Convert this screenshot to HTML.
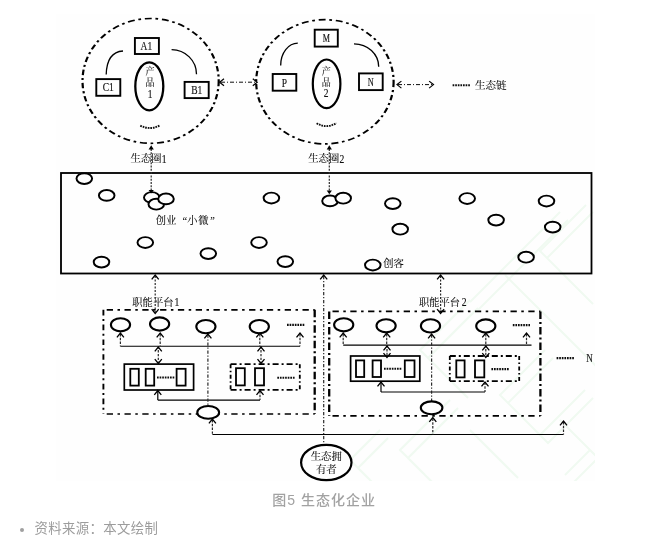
<!DOCTYPE html>
<html lang="zh-CN">
<head>
<meta charset="utf-8">
<title>图5 生态化企业</title>
<style>
html,body{margin:0;padding:0;background:#fff;}
body{width:650px;height:543px;position:relative;overflow:hidden;font-family:"Liberation Sans","Noto Sans CJK SC",sans-serif;}
figure{margin:0;position:absolute;left:0;top:0;width:650px;height:543px;}
svg{position:absolute;left:0;top:0;display:block;}
svg text{font-family:"Liberation Serif","Noto Serif CJK SC",serif;}
figcaption{position:absolute;left:0;width:650px;top:489.3px;line-height:22px;text-align:center;font-size:14px;font-weight:500;letter-spacing:1px;color:#a2a2a2;text-indent:-1.6px;filter:blur(0.3px);}
ul{position:absolute;left:0;top:518px;margin:0;padding:0;list-style:none;}
li{position:relative;padding-left:34.6px;font-size:13.4px;letter-spacing:0.35px;line-height:22px;color:#9c9c9c;white-space:nowrap;filter:blur(0.3px);}
li::before{content:"";position:absolute;left:19.8px;top:9.8px;width:4.4px;height:4.4px;border-radius:50%;background:#a0a0a0;}
</style>
</head>
<body>
<figure>
<svg width="650" height="543" viewBox="0 0 650 543">
<defs><clipPath id="imgclip"><rect x="56" y="14" width="539" height="467"/></clipPath><filter id="soft" x="-2%" y="-2%" width="104%" height="104%"><feGaussianBlur stdDeviation="0.45"/></filter></defs>
<g filter="url(#soft)">
<rect x="56" y="14" width="539" height="467" fill="#fefefe"/>
<g fill="none" stroke="#f0faf1" stroke-width="2" clip-path="url(#imgclip)"><path d="M586,205 L540,251 L586,297 M593,212 L547,258 L593,304"/><path d="M560,212 L500,272 L470,302 M568,220 L508,280 L478,310"/><path d="M505,275 L590,360 M513,283 L598,368"/><path d="M470,300 L420,350 L460,390 M478,308 L428,358 L468,398"/><path d="M545,350 L500,395 L540,435 L585,390 M553,358 L508,403 L548,443 L593,398"/><path d="M450,400 L400,450 L425,475 M458,408 L408,458 L433,483"/><path d="M380,430 L350,460 L370,480 M388,438 L358,468 L378,488"/><path d="M470,430 L510,470 M478,438 L518,478"/><path d="M560,420 L590,450 L565,475 M568,428 L598,458 L573,483"/></g>
<g transform="scale(1.3,1)"><ellipse cx="115.85" cy="80.9" rx="52.38" ry="62.4" fill="none" stroke="#000" stroke-width="1.7" stroke-dasharray="5.4 2.9 2.1 2.9" stroke-dashoffset="0"/></g>
<g transform="scale(1.3,1)"><ellipse cx="249.92" cy="81.8" rx="52.85" ry="62.1" fill="none" stroke="#000" stroke-width="1.7" stroke-dasharray="5.4 2.9 2.1 2.9" stroke-dashoffset="0"/></g>
<rect x="134.9" y="38" width="24.0" height="16" fill="none" stroke="#000" stroke-width="1.9"/>
<text transform="translate(146.4,50) scale(0.82,1)" font-size="11.6" text-anchor="middle" fill="#111" stroke="#111" stroke-width="0.15">A1</text>
<rect x="96.3" y="79.1" width="24.0" height="16.700000000000003" fill="none" stroke="#000" stroke-width="1.9"/>
<text transform="translate(108.3,91.2) scale(0.82,1)" font-size="11.6" text-anchor="middle" fill="#111" stroke="#111" stroke-width="0.15">C1</text>
<rect x="184.6" y="81.9" width="24.099999999999994" height="16.19999999999999" fill="none" stroke="#000" stroke-width="1.9"/>
<text transform="translate(196.8,94) scale(0.82,1)" font-size="11.6" text-anchor="middle" fill="#111" stroke="#111" stroke-width="0.15">B1</text>
<ellipse cx="149.3" cy="86.3" rx="14" ry="24" fill="#fefefe" stroke="#000" stroke-width="2.3" />
<text transform="translate(150,75.3) scale(0.9,1)" font-size="10" text-anchor="middle" fill="#0a0a0a" stroke="#0a0a0a" stroke-width="0.1">产</text>
<text transform="translate(150,86) scale(0.9,1)" font-size="10" text-anchor="middle" fill="#0a0a0a" stroke="#0a0a0a" stroke-width="0.1">品</text>
<text transform="translate(150,98) scale(0.82,1)" font-size="11.6" text-anchor="middle" fill="#111" stroke="#111" stroke-width="0.15">1</text>
<path d="M123,51 C113.5,51.6 106.6,58.5 106.2,74.6" fill="none" stroke="#000" stroke-width="1.3"/>
<path d="M171.6,49.6 A25,24.6 0 0 1 196.5,74.2" fill="none" stroke="#000" stroke-width="1.3"/>
<path d="M140.3,125.6 Q150,130.6 160,125.4" fill="none" stroke="#111" stroke-width="1.9" stroke-dasharray="1.7 0.9"/>
<rect x="314.7" y="29.7" width="23.100000000000023" height="16.900000000000002" fill="none" stroke="#000" stroke-width="1.9"/>
<text transform="translate(326.3,42.3) scale(0.7,1)" font-size="11.6" text-anchor="middle" fill="#111" stroke="#111" stroke-width="0.15">M</text>
<rect x="272.7" y="74" width="23.600000000000023" height="16.700000000000003" fill="none" stroke="#000" stroke-width="1.9"/>
<text transform="translate(284.5,87.0) scale(0.82,1)" font-size="11.6" text-anchor="middle" fill="#111" stroke="#111" stroke-width="0.15">P</text>
<rect x="359" y="73.4" width="23.69999999999999" height="16.69999999999999" fill="none" stroke="#000" stroke-width="1.9"/>
<text transform="translate(370.8,86.2) scale(0.72,1)" font-size="11.6" text-anchor="middle" fill="#111" stroke="#111" stroke-width="0.15">N</text>
<ellipse cx="326.6" cy="83.8" rx="13.8" ry="24.3" fill="#fefefe" stroke="#000" stroke-width="2.2" />
<text transform="translate(326.2,75) scale(0.9,1)" font-size="10" text-anchor="middle" fill="#0a0a0a" stroke="#0a0a0a" stroke-width="0.1">产</text>
<text transform="translate(326.2,85.6) scale(0.9,1)" font-size="10" text-anchor="middle" fill="#0a0a0a" stroke="#0a0a0a" stroke-width="0.1">品</text>
<text transform="translate(326.2,96.8) scale(0.82,1)" font-size="11.6" text-anchor="middle" fill="#111" stroke="#111" stroke-width="0.15">2</text>
<path d="M297.8,43.2 A17.1,22.2 0 0 0 280.7,65.4" fill="none" stroke="#000" stroke-width="1.3"/>
<path d="M354,43.8 A24.7,23 0 0 1 378.7,66.8" fill="none" stroke="#000" stroke-width="1.3"/>
<path d="M316.6,123.2 Q326.5,129.2 336.4,123" fill="none" stroke="#111" stroke-width="1.9" stroke-dasharray="1.7 0.9"/>
<path d="M221,82.2 L256.5,82.2" fill="none" stroke="#000" stroke-width="0.95" stroke-dasharray="4 2 1 2"/>
<path d="M224.0,78.7 L219.6,82.2 L224.0,85.7" fill="none" stroke="#000" stroke-width="1.2"/>
<path d="M252.79999999999998,78.7 L257.2,82.2 L252.79999999999998,85.7" fill="none" stroke="#000" stroke-width="1.2"/>
<path d="M398,84.6 L433,84.6" fill="none" stroke="#000" stroke-width="0.95" stroke-dasharray="4 2 1 2"/>
<path d="M401.4,81.1 L397,84.6 L401.4,88.1" fill="none" stroke="#000" stroke-width="1.2"/>
<path d="M429.1,81.1 L433.5,84.6 L429.1,88.1" fill="none" stroke="#000" stroke-width="1.2"/>
<path d="M452.6,85.2 L470,85.2" fill="none" stroke="#111" stroke-width="2.1" stroke-dasharray="1.7 0.9"/>
<text x="475" y="89.3" font-size="10.5" text-anchor="start" fill="#0a0a0a" stroke="#0a0a0a" stroke-width="0.1">生态链</text>
<text x="130.6" y="162.4" font-size="10.3" text-anchor="start" fill="#0a0a0a" stroke="#0a0a0a" stroke-width="0.1">生态圈</text>
<text transform="translate(161.8,162.8) scale(0.82,1)" font-size="11.8" text-anchor="start" fill="#111" stroke="#111" stroke-width="0.15">1</text>
<text x="308.3" y="162.4" font-size="10.3" text-anchor="start" fill="#0a0a0a" stroke="#0a0a0a" stroke-width="0.1">生态圈</text>
<text transform="translate(339.5,162.8) scale(0.82,1)" font-size="11.8" text-anchor="start" fill="#111" stroke="#111" stroke-width="0.15">2</text>
<ellipse cx="84.3" cy="178.6" rx="7.8" ry="5.4" fill="#fefefe" stroke="#000" stroke-width="1.95" />
<ellipse cx="106.7" cy="195.4" rx="7.8" ry="5.4" fill="#fefefe" stroke="#000" stroke-width="1.95" />
<ellipse cx="151.8" cy="197.5" rx="7.8" ry="5.4" fill="#fefefe" stroke="#000" stroke-width="1.95" />
<ellipse cx="156.3" cy="204.2" rx="7.8" ry="5.4" fill="#fefefe" stroke="#000" stroke-width="1.95" />
<ellipse cx="166" cy="198.9" rx="7.8" ry="5.4" fill="#fefefe" stroke="#000" stroke-width="1.95" />
<ellipse cx="145.3" cy="242.5" rx="7.8" ry="5.4" fill="#fefefe" stroke="#000" stroke-width="1.95" />
<ellipse cx="101.5" cy="262.1" rx="7.8" ry="5.4" fill="#fefefe" stroke="#000" stroke-width="1.95" />
<ellipse cx="208.3" cy="253.6" rx="7.8" ry="5.4" fill="#fefefe" stroke="#000" stroke-width="1.95" />
<ellipse cx="271.4" cy="198" rx="7.8" ry="5.4" fill="#fefefe" stroke="#000" stroke-width="1.95" />
<ellipse cx="330" cy="200.9" rx="7.8" ry="5.4" fill="#fefefe" stroke="#000" stroke-width="1.95" />
<ellipse cx="343.2" cy="198.2" rx="7.8" ry="5.4" fill="#fefefe" stroke="#000" stroke-width="1.95" />
<ellipse cx="259" cy="242.5" rx="7.8" ry="5.4" fill="#fefefe" stroke="#000" stroke-width="1.95" />
<ellipse cx="285.3" cy="261.6" rx="7.8" ry="5.4" fill="#fefefe" stroke="#000" stroke-width="1.95" />
<ellipse cx="392.8" cy="203.6" rx="7.8" ry="5.4" fill="#fefefe" stroke="#000" stroke-width="1.95" />
<ellipse cx="400.2" cy="229.2" rx="7.8" ry="5.4" fill="#fefefe" stroke="#000" stroke-width="1.95" />
<ellipse cx="467.2" cy="198.5" rx="7.8" ry="5.4" fill="#fefefe" stroke="#000" stroke-width="1.95" />
<ellipse cx="496.1" cy="220.1" rx="7.8" ry="5.4" fill="#fefefe" stroke="#000" stroke-width="1.95" />
<ellipse cx="372.8" cy="265" rx="7.8" ry="5.4" fill="#fefefe" stroke="#000" stroke-width="1.95" />
<ellipse cx="546.5" cy="201" rx="7.8" ry="5.4" fill="#fefefe" stroke="#000" stroke-width="1.95" />
<ellipse cx="552.7" cy="227.1" rx="7.8" ry="5.4" fill="#fefefe" stroke="#000" stroke-width="1.95" />
<ellipse cx="526.1" cy="257.2" rx="7.8" ry="5.4" fill="#fefefe" stroke="#000" stroke-width="1.95" />
<rect x="61" y="173" width="530.5" height="100.5" fill="none" stroke="#000" stroke-width="1.8"/>
<path d="M151.2,149 L151.2,190.5" fill="none" stroke="#2a2a2a" stroke-width="1.2" stroke-dasharray="2 1.3"/>
<path d="M151.2,145.3 L148.6,149.5 L153.79999999999998,149.5 Z" fill="#000" stroke="none"/>
<path d="M151.2,193.6 L148.6,190.0 L153.79999999999998,190.0 Z" fill="#000" stroke="none"/>
<path d="M329.3,149 L329.3,191" fill="none" stroke="#2a2a2a" stroke-width="1.2" stroke-dasharray="2 1.3"/>
<path d="M329.3,145.3 L326.7,149.5 L331.90000000000003,149.5 Z" fill="#000" stroke="none"/>
<path d="M329.3,194.2 L326.7,190.6 L331.90000000000003,190.6 Z" fill="#000" stroke="none"/>
<text y="224.2" font-size="10.3" fill="#0a0a0a" stroke="#0a0a0a" stroke-width="0.1"><tspan x="155.7">创业</tspan><tspan x="182.4">“</tspan><tspan x="187.2">小</tspan><tspan x="198.2">微</tspan><tspan x="210.2">”</tspan></text>
<text x="383.2" y="267.3" font-size="10.3" text-anchor="start" fill="#0a0a0a" stroke="#0a0a0a" stroke-width="0.1">创客</text>
<path d="M155.2,276 L155.2,312.5" fill="none" stroke="#2a2a2a" stroke-width="1.2" stroke-dasharray="2 1.5"/>
<path d="M151.7,279.4 L155.2,275 L158.7,279.4" fill="none" stroke="#000" stroke-width="1.3"/>
<path d="M151.7,309.1 L155.2,313.5 L158.7,309.1" fill="none" stroke="#000" stroke-width="1.3"/>
<path d="M440.6,276 L440.6,312.5" fill="none" stroke="#2a2a2a" stroke-width="1.2" stroke-dasharray="2 1.5"/>
<path d="M437.1,279.4 L440.6,275 L444.1,279.4" fill="none" stroke="#000" stroke-width="1.3"/>
<path d="M437.1,309.1 L440.6,313.5 L444.1,309.1" fill="none" stroke="#000" stroke-width="1.3"/>
<path d="M323.7,276 L323.7,444.5" fill="none" stroke="#2a2a2a" stroke-width="1.2" stroke-dasharray="3.2 1.8 1.2 1.8"/>
<path d="M320.2,279.4 L323.7,275 L327.2,279.4" fill="none" stroke="#000" stroke-width="1.3"/>
<text x="132.3" y="305.9" font-size="10.3" text-anchor="start" fill="#0a0a0a" stroke="#0a0a0a" stroke-width="0.1">职能平台</text>
<text transform="translate(174.6,306) scale(0.82,1)" font-size="11.8" text-anchor="start" fill="#111" stroke="#111" stroke-width="0.15">1</text>
<text x="418.9" y="305.9" font-size="10.3" text-anchor="start" fill="#0a0a0a" stroke="#0a0a0a" stroke-width="0.1">职能平台</text>
<text transform="translate(461.7,306) scale(0.82,1)" font-size="11.8" text-anchor="start" fill="#111" stroke="#111" stroke-width="0.15">2</text>
<path d="M103.4,309.8 L314.7,309.8" fill="none" stroke="#000" stroke-width="1.7" stroke-dasharray="6.3 4.5 2.5 4.5" stroke-dashoffset="14.5"/>
<path d="M103.4,414 L314.7,414" fill="none" stroke="#000" stroke-width="1.7" stroke-dasharray="6.3 4.5 2.5 4.5" stroke-dashoffset="14.5"/>
<path d="M103.4,309.8 L103.4,414" fill="none" stroke="#000" stroke-width="1.9" stroke-dasharray="5.6 3.6 2 3.6" stroke-dashoffset="0"/>
<path d="M314.7,309.8 L314.7,414" fill="none" stroke="#000" stroke-width="2.3" stroke-dasharray="7.5 3 2 3" stroke-dashoffset="0"/>
<ellipse cx="120.5" cy="324.8" rx="9.6" ry="6.6" fill="#fefefe" stroke="#000" stroke-width="2.1" />
<ellipse cx="159.6" cy="324.0" rx="9.6" ry="6.6" fill="#fefefe" stroke="#000" stroke-width="2.1" />
<ellipse cx="205.9" cy="326.6" rx="9.6" ry="6.6" fill="#fefefe" stroke="#000" stroke-width="2.1" />
<ellipse cx="259.3" cy="326.6" rx="9.6" ry="6.6" fill="#fefefe" stroke="#000" stroke-width="2.1" />
<path d="M287,324.9 L305,324.9" fill="none" stroke="#111" stroke-width="2.2" stroke-dasharray="1.7 0.9"/>
<path d="M120.4,346.3 L300,346.3" fill="none" stroke="#000" stroke-width="1.1"/>
<path d="M120.4,334 L120.4,346.3" fill="none" stroke="#2a2a2a" stroke-width="1.2" stroke-dasharray="2.4 1.4"/>
<path d="M116.9,337.4 L120.4,333 L123.9,337.4" fill="none" stroke="#000" stroke-width="1.3"/>
<path d="M160.2,334 L160.2,346.3" fill="none" stroke="#2a2a2a" stroke-width="1.2" stroke-dasharray="2.4 1.4"/>
<path d="M156.7,337.4 L160.2,333 L163.7,337.4" fill="none" stroke="#000" stroke-width="1.3"/>
<path d="M259.8,334 L259.8,346.3" fill="none" stroke="#2a2a2a" stroke-width="1.2" stroke-dasharray="2.4 1.4"/>
<path d="M256.3,337.4 L259.8,333 L263.3,337.4" fill="none" stroke="#000" stroke-width="1.3"/>
<path d="M300,334 L300,346.3" fill="none" stroke="#2a2a2a" stroke-width="1.2" stroke-dasharray="2.4 1.4"/>
<path d="M296.5,337.4 L300,333 L303.5,337.4" fill="none" stroke="#000" stroke-width="1.3"/>
<path d="M158.3,346.3 L158.3,363" fill="none" stroke="#2a2a2a" stroke-width="1.2" stroke-dasharray="2.4 1.4"/>
<path d="M154.8,351.4 L158.3,347 L161.8,351.4" fill="none" stroke="#000" stroke-width="1.3"/>
<path d="M154.8,359.1 L158.3,363.5 L161.8,359.1" fill="none" stroke="#000" stroke-width="1.3"/>
<path d="M261,346.3 L261,363" fill="none" stroke="#2a2a2a" stroke-width="1.2" stroke-dasharray="2.4 1.4"/>
<path d="M257.5,351.4 L261,347 L264.5,351.4" fill="none" stroke="#000" stroke-width="1.3"/>
<path d="M257.5,359.1 L261,363.5 L264.5,359.1" fill="none" stroke="#000" stroke-width="1.3"/>
<rect x="124.3" y="364.1" width="69.3" height="25.899999999999977" fill="none" stroke="#000" stroke-width="1.7"/>
<rect x="130.3" y="368.8" width="8.5" height="16.80000000000001" fill="none" stroke="#000" stroke-width="1.8"/>
<rect x="145.7" y="368.8" width="8.5" height="16.80000000000001" fill="none" stroke="#000" stroke-width="1.8"/>
<rect x="176.6" y="368.8" width="9.0" height="16.80000000000001" fill="none" stroke="#000" stroke-width="1.8"/>
<path d="M157,377.6 L175,377.6" fill="none" stroke="#111" stroke-width="2.0" stroke-dasharray="1.7 0.9"/>
<path d="M230.6,364.2 L299.8,364.2" fill="none" stroke="#000" stroke-width="1.8" stroke-dasharray="6 3 2 3" stroke-dashoffset="0"/>
<path d="M230.6,389.8 L299.8,389.8" fill="none" stroke="#000" stroke-width="1.8" stroke-dasharray="6 3 2 3" stroke-dashoffset="0"/>
<path d="M230.6,364.2 L230.6,389.8" fill="none" stroke="#000" stroke-width="1.8" stroke-dasharray="4 2.5 1.5 2.5" stroke-dashoffset="0"/>
<path d="M299.8,364.2 L299.8,389.8" fill="none" stroke="#000" stroke-width="1.8" stroke-dasharray="4 2.5 1.5 2.5" stroke-dashoffset="0"/>
<rect x="236" y="368.2" width="8.800000000000011" height="17.19999999999999" fill="none" stroke="#000" stroke-width="1.8"/>
<rect x="255" y="368.2" width="9" height="17.19999999999999" fill="none" stroke="#000" stroke-width="1.8"/>
<path d="M277.3,377.7 L294.8,377.7" fill="none" stroke="#111" stroke-width="2.0" stroke-dasharray="1.7 0.9"/>
<path d="M157.8,400.1 L260,400.1" fill="none" stroke="#000" stroke-width="1.1"/>
<path d="M157.8,391 L157.8,400.1" fill="none" stroke="#000" stroke-width="1.2"/>
<path d="M154.3,394.9 L157.8,390.5 L161.3,394.9" fill="none" stroke="#000" stroke-width="1.3"/>
<path d="M260,391 L260,400.1" fill="none" stroke="#2a2a2a" stroke-width="1.2" stroke-dasharray="2.4 1.4"/>
<path d="M256.5,394.9 L260,390.5 L263.5,394.9" fill="none" stroke="#000" stroke-width="1.3"/>
<path d="M207.9,334.5 L207.9,405" fill="none" stroke="#2a2a2a" stroke-width="1.2" stroke-dasharray="3.2 1.8 1.2 1.8"/>
<path d="M204.4,338.4 L207.9,334 L211.4,338.4" fill="none" stroke="#000" stroke-width="1.3"/>
<ellipse cx="208.2" cy="412.4" rx="10.9" ry="6.4" fill="#fefefe" stroke="#000" stroke-width="2.1" />
<path d="M212.4,420 L212.4,434.5" fill="none" stroke="#2a2a2a" stroke-width="1.2" stroke-dasharray="2.4 1.4"/>
<path d="M208.9,423.4 L212.4,419 L215.9,423.4" fill="none" stroke="#000" stroke-width="1.3"/>
<path d="M212.4,434.5 L563.5,434.5" fill="none" stroke="#000" stroke-width="1.1"/>
<path d="M563.5,422 L563.5,434.5" fill="none" stroke="#2a2a2a" stroke-width="1.2" stroke-dasharray="2.4 1.4"/>
<path d="M560.0,425.4 L563.5,421 L567.0,425.4" fill="none" stroke="#000" stroke-width="1.3"/>
<path d="M329.2,311.4 L540.4,311.4" fill="none" stroke="#000" stroke-width="1.7" stroke-dasharray="6.3 4.5 2.5 4.5" stroke-dashoffset="14.5"/>
<path d="M329.2,415.8 L540.4,415.8" fill="none" stroke="#000" stroke-width="1.7" stroke-dasharray="6.3 4.5 2.5 4.5" stroke-dashoffset="14.5"/>
<path d="M329.2,311.4 L329.2,415.8" fill="none" stroke="#000" stroke-width="2.3" stroke-dasharray="7.5 3 2 3" stroke-dashoffset="0"/>
<path d="M540.4,311.4 L540.4,415.8" fill="none" stroke="#000" stroke-width="2.3" stroke-dasharray="7.5 3 2 3" stroke-dashoffset="0"/>
<ellipse cx="343.7" cy="324.8" rx="9.6" ry="6.6" fill="#fefefe" stroke="#000" stroke-width="2.1" />
<ellipse cx="386.1" cy="325.8" rx="9.6" ry="6.6" fill="#fefefe" stroke="#000" stroke-width="2.1" />
<ellipse cx="430.5" cy="325.9" rx="9.6" ry="6.6" fill="#fefefe" stroke="#000" stroke-width="2.1" />
<ellipse cx="485.8" cy="326" rx="9.6" ry="6.6" fill="#fefefe" stroke="#000" stroke-width="2.1" />
<path d="M512.8,325.2 L530,325.2" fill="none" stroke="#111" stroke-width="2.2" stroke-dasharray="1.7 0.9"/>
<path d="M343.2,345.1 L531.5,345.1" fill="none" stroke="#000" stroke-width="1.1"/>
<path d="M343.2,334 L343.2,345.2" fill="none" stroke="#2a2a2a" stroke-width="1.2" stroke-dasharray="2.4 1.4"/>
<path d="M339.7,337.4 L343.2,333 L346.7,337.4" fill="none" stroke="#000" stroke-width="1.3"/>
<path d="M386.7,334 L386.7,345.2" fill="none" stroke="#2a2a2a" stroke-width="1.2" stroke-dasharray="2.4 1.4"/>
<path d="M383.2,337.4 L386.7,333 L390.2,337.4" fill="none" stroke="#000" stroke-width="1.3"/>
<path d="M485.8,334 L485.8,345.2" fill="none" stroke="#2a2a2a" stroke-width="1.2" stroke-dasharray="2.4 1.4"/>
<path d="M482.3,337.4 L485.8,333 L489.3,337.4" fill="none" stroke="#000" stroke-width="1.3"/>
<path d="M526.5,334 L526.5,345.2" fill="none" stroke="#2a2a2a" stroke-width="1.2" stroke-dasharray="2.4 1.4"/>
<path d="M523.0,337.4 L526.5,333 L530.0,337.4" fill="none" stroke="#000" stroke-width="1.3"/>
<path d="M387,345.2 L387,357" fill="none" stroke="#2a2a2a" stroke-width="1.2" stroke-dasharray="2.4 1.4"/>
<path d="M383.5,350.4 L387,346 L390.5,350.4" fill="none" stroke="#000" stroke-width="1.3"/>
<path d="M383.5,353.1 L387,357.5 L390.5,353.1" fill="none" stroke="#000" stroke-width="1.3"/>
<path d="M485.8,345.2 L485.8,357" fill="none" stroke="#2a2a2a" stroke-width="1.2" stroke-dasharray="2.4 1.4"/>
<path d="M482.3,350.4 L485.8,346 L489.3,350.4" fill="none" stroke="#000" stroke-width="1.3"/>
<path d="M482.3,353.1 L485.8,357.5 L489.3,353.1" fill="none" stroke="#000" stroke-width="1.3"/>
<rect x="350.6" y="356" width="69.19999999999999" height="25.19999999999999" fill="none" stroke="#000" stroke-width="1.7"/>
<rect x="356" y="360.4" width="8.199999999999989" height="16.600000000000023" fill="none" stroke="#000" stroke-width="1.8"/>
<rect x="372.6" y="360.4" width="8.399999999999977" height="16.600000000000023" fill="none" stroke="#000" stroke-width="1.8"/>
<rect x="404.8" y="360.4" width="9.699999999999989" height="16.600000000000023" fill="none" stroke="#000" stroke-width="1.8"/>
<path d="M384,368.8 L402,368.8" fill="none" stroke="#111" stroke-width="2.1" stroke-dasharray="1.7 0.9"/>
<path d="M449.8,356 L519.2,356" fill="none" stroke="#000" stroke-width="1.8" stroke-dasharray="6 3 2 3" stroke-dashoffset="0"/>
<path d="M449.8,381.2 L519.2,381.2" fill="none" stroke="#000" stroke-width="1.8" stroke-dasharray="6 3 2 3" stroke-dashoffset="0"/>
<path d="M449.8,356 L449.8,381.2" fill="none" stroke="#000" stroke-width="1.8" stroke-dasharray="4 2.5 1.5 2.5" stroke-dashoffset="0"/>
<path d="M519.2,356 L519.2,381.2" fill="none" stroke="#000" stroke-width="1.8" stroke-dasharray="4 2.5 1.5 2.5" stroke-dashoffset="0"/>
<rect x="456.3" y="360.4" width="8.300000000000011" height="17.0" fill="none" stroke="#000" stroke-width="1.8"/>
<rect x="475" y="360.4" width="9.300000000000011" height="17.0" fill="none" stroke="#000" stroke-width="1.8"/>
<path d="M491.4,369.1 L509,369.1" fill="none" stroke="#111" stroke-width="2.1" stroke-dasharray="1.7 0.9"/>
<path d="M381,392 L485,392" fill="none" stroke="#000" stroke-width="1.1"/>
<path d="M381,382.5 L381,392" fill="none" stroke="#000" stroke-width="1.2"/>
<path d="M377.5,386.4 L381,382 L384.5,386.4" fill="none" stroke="#000" stroke-width="1.3"/>
<path d="M485,382.5 L485,392" fill="none" stroke="#2a2a2a" stroke-width="1.2" stroke-dasharray="2.4 1.4"/>
<path d="M481.5,386.4 L485,382 L488.5,386.4" fill="none" stroke="#000" stroke-width="1.3"/>
<path d="M431.6,334.5 L431.6,401" fill="none" stroke="#2a2a2a" stroke-width="1.2" stroke-dasharray="3.2 1.8 1.2 1.8"/>
<path d="M428.1,338.4 L431.6,334 L435.1,338.4" fill="none" stroke="#000" stroke-width="1.3"/>
<ellipse cx="431.6" cy="407.8" rx="10.8" ry="6.4" fill="#fefefe" stroke="#000" stroke-width="2.1" />
<path d="M432.8,418.5 L432.8,434.5" fill="none" stroke="#2a2a2a" stroke-width="1.2" stroke-dasharray="2.4 1.4"/>
<path d="M429.3,421.9 L432.8,417.5 L436.3,421.9" fill="none" stroke="#000" stroke-width="1.3"/>
<path d="M556.6,358.2 L574.7,358.2" fill="none" stroke="#111" stroke-width="2.2" stroke-dasharray="1.7 0.9"/>
<text transform="translate(586.2,362) scale(0.78,1)" font-size="11.6" text-anchor="start" fill="#111" stroke="#111" stroke-width="0.15">N</text>
<ellipse cx="326.3" cy="462.5" rx="25.2" ry="17.7" fill="#fefefe" stroke="#000" stroke-width="2.2" />
<text x="326.3" y="460.2" font-size="10.4" text-anchor="middle" fill="#0a0a0a" stroke="#0a0a0a" stroke-width="0.1">生态拥</text>
<text x="326.3" y="472.6" font-size="10.4" text-anchor="middle" fill="#0a0a0a" stroke="#0a0a0a" stroke-width="0.1">有者</text>
</g>
</svg>
<figcaption>图5 生态化企业</figcaption>
</figure>
<ul><li>资料来源：本文绘制</li></ul>
</body>
</html>
